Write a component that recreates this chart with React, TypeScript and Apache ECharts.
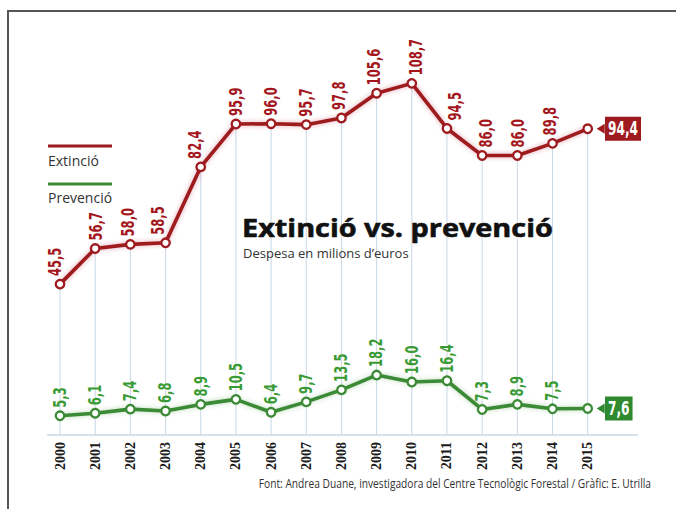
import React, { useEffect, useRef } from "react";
import * as echarts from "echarts";

const years = ["2000", "2001", "2002", "2003", "2004", "2005", "2006", "2007", "2008", "2009", "2010", "2011", "2012", "2013", "2014", "2015"];
const extincio = [45.5, 56.7, 58.0, 58.5, 82.4, 95.9, 96.0, 95.7, 97.8, 105.6, 108.7, 94.5, 86.0, 86.0, 89.8, 94.4];
const prevencio = [5.3, 6.1, 7.4, 6.8, 8.9, 10.5, 6.4, 9.7, 13.5, 18.2, 16.0, 16.4, 7.3, 8.9, 7.5, 7.6];

// horizontal nudges (px) of the rotated red labels, to keep them off the line
const redLabelNudge = [-5, 1, -2, -7, -6, 0, 0, 0, -2, -2, 4, 8, 4, 1, -2, 0];

const title = "Extinció vs. prevenció";
const subtitle = "Despesa en milions d’euros";
const source = "Font: Andrea Duane, investigadora del Centre Tecnològic Forestal / Gràfic: E. Utrilla";
const legendNames = ["Extinció", "Prevenció"];

const RED = "#9e1a1f";
const RED_TEXT = "#a3161c";
const GREEN = "#3b8a35";
const GREEN_BOX = "#2f8a2f";
const GREEN_TEXT = "#3a9a35";
const GRID_LINE = "#c9d8e6";
const LABEL_FONT = "'DejaVu Sans', sans-serif";
const SANS = "'Open Sans', sans-serif";

const RED_MIN = -2;
const RED_MAX = 125.5;
const GREEN_MIN = -0.8;
const GREEN_MAX = 127.6;

const fmt = (v: number) => v.toFixed(1).replace(".", ",");

function measure(text: string, font: string): number {
  const c = document.createElement("canvas").getContext("2d");
  if (!c) return 0;
  c.font = font;
  return c.measureText(text).width;
}

function labelSeries(values: number[], yAxisIndex: number, color: string, boxColor: string, gap: number, nudge?: number[]) {
  const last = values.length - 1;
  return {
    type: "custom",
    yAxisIndex,
    silent: true,
    z: 6,
    data: values.map((v, i) => [i, v]),
    encode: { x: 0, y: 1 },
    renderItem: (params: any, api: any) => {
      const i = api.value(0);
      const v = api.value(1);
      const p = api.coord([i, v]);
      const txt = fmt(v);
      if (params.dataIndex === last) {
        return {
          type: "text",
          x: p[0] + 17.3,
          y: p[1],
          scaleX: 0.64,
          style: {
            text: txt,
            fontFamily: LABEL_FONT,
            fontWeight: "bold",
            fontSize: 19,
            lineHeight: 19,
            fill: "#fff",
            backgroundColor: boxColor,
            padding: [3, 4.7, 2, 4.7],
            align: "left",
            verticalAlign: "middle",
          },
        };
      }
      const dx = nudge ? nudge[params.dataIndex] || 0 : 0;
      return {
        type: "text",
        x: p[0] + dx,
        y: p[1] - gap,
        rotation: Math.PI / 2,
        scaleX: 0.68,
        style: {
          text: txt,
          fontFamily: LABEL_FONT,
          fontWeight: "bold",
          fontSize: 17,
          fill: color,
          stroke: "rgba(255,255,255,0.9)",
          lineWidth: 1,
          align: "left",
          verticalAlign: "middle",
        },
      };
    },
  };
}

export default function App() {
  const ref = useRef<HTMLDivElement>(null);

  useEffect(() => {
    if (!ref.current) return;
    const chart = echarts.init(ref.current, undefined, { renderer: "svg" });
    const lastIdx = years.length - 1;

    const titleFont = `bold 25px ${SANS}`;
    const titleW = measure(title, titleFont) || 280;
    const titleScale = 311 / titleW;
    const sourceFont = `12px ${SANS}`;
    const sourceW = measure(source, sourceFont) || 470;
    const sourceScale = 393 / sourceW;

    const option: any = {
      animation: false,
      backgroundColor: "#fff",
      grid: { left: 60, right: 88.3, top: 30, bottom: 74, containLabel: false },
      xAxis: {
        type: "category",
        data: years,
        boundaryGap: false,
        axisLine: { show: false },
        axisTick: { show: false },
        splitLine: { show: false },
        axisLabel: {
          rotate: 90,
          margin: 7,
          fontFamily: "'Liberation Serif', serif",
          fontWeight: "bold",
          fontSize: 14,
          color: "#1a1a1a",
        },
      },
      yAxis: [
        { type: "value", show: false, min: RED_MIN, max: RED_MAX, splitLine: { show: false } },
        { type: "value", show: false, min: GREEN_MIN, max: GREEN_MAX, splitLine: { show: false } },
      ],
      series: [
        {
          type: "custom",
          yAxisIndex: 0,
          silent: true,
          z: 1,
          data: extincio.map((v, i) => [i, v]),
          encode: { x: 0, y: 1 },
          renderItem: (params: any, api: any) => {
            const top = api.coord([api.value(0), api.value(1)]);
            const bot = api.coord([api.value(0), RED_MIN]);
            return {
              type: "line",
              shape: { x1: top[0], y1: top[1], x2: bot[0], y2: bot[1] },
              style: { stroke: GRID_LINE, lineWidth: 1 },
            };
          },
        },
        {
          name: legendNames[1],
          type: "line",
          yAxisIndex: 1,
          z: 3,
          data: prevencio,
          symbol: "circle",
          symbolSize: 8.5,
          itemStyle: { color: "#fff", borderColor: GREEN, borderWidth: 2.3 },
          lineStyle: { color: GREEN, width: 3.6, shadowBlur: 5, shadowColor: "rgba(60,140,50,0.35)" },
          label: { show: false },
          markPoint: {
            silent: true,
            symbol: "triangle",
            symbolSize: [10, 8],
            symbolRotate: 90,
            symbolOffset: [13, 0],
            itemStyle: { color: GREEN_BOX },
            label: { show: false },
            data: [{ coord: [lastIdx, prevencio[lastIdx]] }],
          },
        },
        {
          name: legendNames[0],
          type: "line",
          yAxisIndex: 0,
          z: 4,
          data: extincio,
          symbol: "circle",
          symbolSize: 8.5,
          itemStyle: { color: "#fff", borderColor: RED, borderWidth: 2.3 },
          lineStyle: { color: RED, width: 3.6, shadowBlur: 5, shadowColor: "rgba(170,30,40,0.35)" },
          label: { show: false },
          markPoint: {
            silent: true,
            symbol: "triangle",
            symbolSize: [10, 8],
            symbolRotate: 90,
            symbolOffset: [13, 0],
            itemStyle: { color: RED },
            label: { show: false },
            data: [{ coord: [lastIdx, extincio[lastIdx]] }],
          },
        },
        labelSeries(prevencio, 1, GREEN_TEXT, GREEN_BOX, 8),
        labelSeries(extincio, 0, RED_TEXT, RED, 8, redLabelNudge),
      ],
      graphic: [
        { type: "line", shape: { x1: 8, y1: 11, x2: 676, y2: 11 }, style: { stroke: "#555", lineWidth: 2 }, silent: true },
        { type: "line", shape: { x1: 8, y1: 10, x2: 8, y2: 509 }, style: { stroke: "#555", lineWidth: 2 }, silent: true },
        { type: "line", shape: { x1: 47, y1: 435, x2: 638, y2: 435 }, style: { stroke: GRID_LINE, lineWidth: 1.5 }, silent: true, z: 0 },
        { type: "line", shape: { x1: 48, y1: 146, x2: 112, y2: 146 }, style: { stroke: RED, lineWidth: 3 }, silent: true },
        { type: "text", x: 48, y: 160, style: { text: legendNames[0], fontFamily: SANS, fontSize: 14, fill: "#333", verticalAlign: "middle", align: "left" } },
        { type: "line", shape: { x1: 48, y1: 184, x2: 112, y2: 184 }, style: { stroke: GREEN, lineWidth: 3 }, silent: true },
        { type: "text", x: 48, y: 197, style: { text: legendNames[1], fontFamily: SANS, fontSize: 14, fill: "#333", verticalAlign: "middle", align: "left" } },
        { type: "text", x: 242, y: 227, z: 10, scaleX: titleScale, style: { text: title, fontFamily: SANS, fontWeight: "bold", fontSize: 25, fill: "#111", verticalAlign: "middle", align: "left", stroke: "#111", lineWidth: 0.6 } },
        { type: "text", x: 243, y: 253, z: 10, style: { text: subtitle, fontFamily: SANS, fontSize: 13, fill: "#333", verticalAlign: "middle", align: "left" } },
        { type: "text", x: 651, y: 483, scaleX: sourceScale, style: { text: source, fontFamily: SANS, fontSize: 12, fill: "#333", verticalAlign: "middle", align: "right" } },
      ],
    };

    chart.setOption(option);
    return () => chart.dispose();
  }, []);

  return (
    <div
      ref={ref}
      style={{ position: "fixed", left: 0, top: 0, width: 676, height: 509, background: "#fff" }}
    />
  );
}
